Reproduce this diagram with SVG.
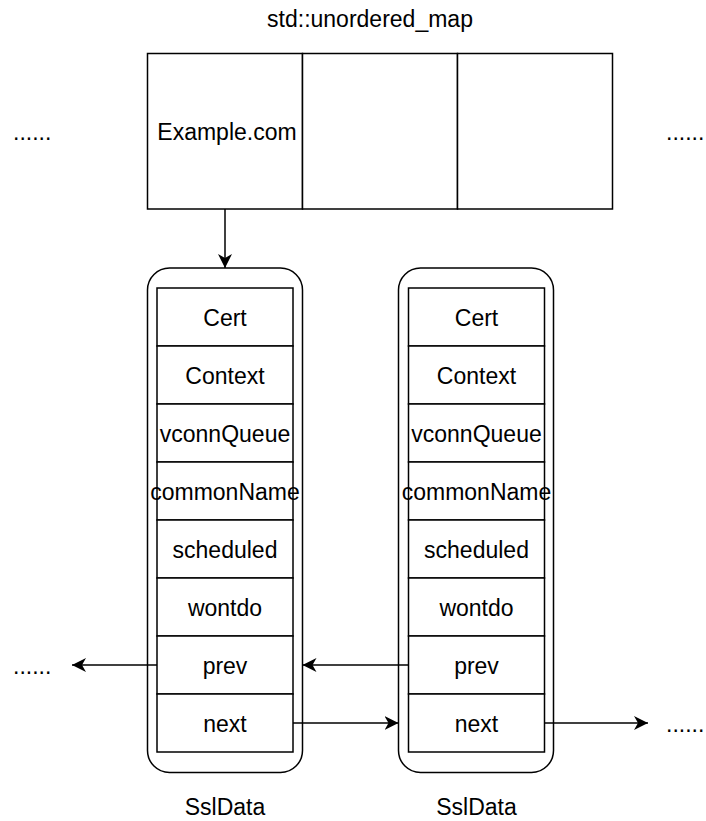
<svg xmlns="http://www.w3.org/2000/svg" width="706" height="821" viewBox="0 0 706 821">
<defs>
<style>
text{font-family:"Liberation Sans",Arial,Helvetica,sans-serif;font-size:23px;fill:#000;}
.c{text-anchor:middle;}
.box{fill:#fff;stroke:#000;stroke-width:1.5;}
.ln{fill:none;stroke:#000;stroke-width:1.5;}
</style>
<marker id="arr" viewBox="0 0 14 14" refX="14" refY="7" markerWidth="14" markerHeight="14" markerUnits="userSpaceOnUse" orient="auto">
<path d="M14,7 L0,0 L4,7 L0,14 Z" fill="#000"/>
</marker>
</defs>
<rect width="706" height="821" fill="#fff"/>
<text class="c" x="370" y="26.5">std::unordered_map</text>
<text x="13" y="139.5">......</text>
<text x="666" y="139.5">......</text>
<text x="13" y="673.5">......</text>
<text x="666" y="731.5">......</text>
<g id="map">
<rect class="box" x="147.5" y="53.5" width="155" height="155.5"/>
<rect class="box" x="302.5" y="53.5" width="155" height="155.5"/>
<rect class="box" x="457.5" y="53.5" width="155" height="155.5"/>
<text class="c" x="227" y="139.5">Example.com</text>
</g>
<g id="ssl1">
<rect class="box" x="147.5" y="268" width="155" height="504.5" rx="22" ry="22"/>
<rect class="box" x="157" y="288" width="136" height="58"/>
<rect class="box" x="157" y="346" width="136" height="58"/>
<rect class="box" x="157" y="404" width="136" height="58"/>
<rect class="box" x="157" y="462" width="136" height="58"/>
<rect class="box" x="157" y="520" width="136" height="58"/>
<rect class="box" x="157" y="578" width="136" height="58"/>
<rect class="box" x="157" y="636" width="136" height="58"/>
<rect class="box" x="157" y="694" width="136" height="58"/>
<text class="c" x="225" y="325.5">Cert</text>
<text class="c" x="225" y="383.5">Context</text>
<text class="c" x="225" y="441.5">vconnQueue</text>
<text class="c" x="225" y="499.5">commonName</text>
<text class="c" x="225" y="557.5">scheduled</text>
<text class="c" x="225" y="615.5">wontdo</text>
<text class="c" x="225" y="673.5">prev</text>
<text class="c" x="225" y="731.5">next</text>
<text class="c" x="225" y="815">SslData</text>
</g>
<g id="ssl2">
<rect class="box" x="398.5" y="268" width="155" height="504.5" rx="22" ry="22"/>
<rect class="box" x="408.5" y="288" width="136" height="58"/>
<rect class="box" x="408.5" y="346" width="136" height="58"/>
<rect class="box" x="408.5" y="404" width="136" height="58"/>
<rect class="box" x="408.5" y="462" width="136" height="58"/>
<rect class="box" x="408.5" y="520" width="136" height="58"/>
<rect class="box" x="408.5" y="578" width="136" height="58"/>
<rect class="box" x="408.5" y="636" width="136" height="58"/>
<rect class="box" x="408.5" y="694" width="136" height="58"/>
<text class="c" x="476.5" y="325.5">Cert</text>
<text class="c" x="476.5" y="383.5">Context</text>
<text class="c" x="476.5" y="441.5">vconnQueue</text>
<text class="c" x="476.5" y="499.5">commonName</text>
<text class="c" x="476.5" y="557.5">scheduled</text>
<text class="c" x="476.5" y="615.5">wontdo</text>
<text class="c" x="476.5" y="673.5">prev</text>
<text class="c" x="476.5" y="731.5">next</text>
<text class="c" x="476.5" y="815">SslData</text>
</g>
<g id="connectors">
<path class="ln" d="M225,209 L225,268" marker-end="url(#arr)"/>
<path class="ln" d="M157,665 L72,665" marker-end="url(#arr)"/>
<path class="ln" d="M408.5,665 L302.5,665" marker-end="url(#arr)"/>
<path class="ln" d="M293,723 L398.5,723" marker-end="url(#arr)"/>
<path class="ln" d="M544.5,723 L648,723" marker-end="url(#arr)"/>
</g>
</svg>
